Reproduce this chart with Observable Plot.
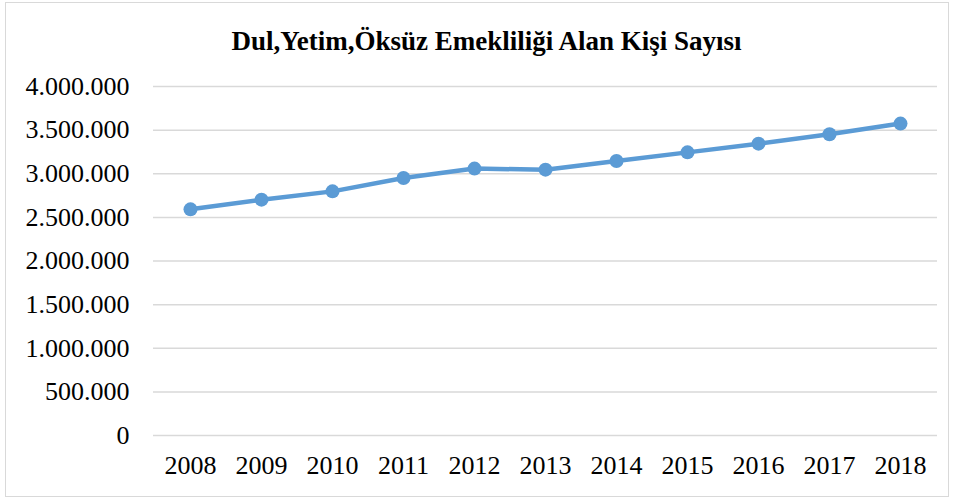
<!DOCTYPE html>
<html>
<head>
<meta charset="utf-8">
<script src="https://cdn.jsdelivr.net/npm/d3@7"></script>
<script src="https://cdn.jsdelivr.net/npm/@observablehq/plot@0.6"></script>
<style>
  html, body { margin: 0; padding: 0; background: #fff; }
  #wrap { position: relative; width: 953px; height: 501px; overflow: hidden; font-family: 'Liberation Serif'; }
  #frame { position: absolute; left: 5px; top: 2px; width: 944px; height: 495px; border: 1.5px solid #d9d9d9; box-sizing: border-box; }
  #title { position: absolute; left: 10px; top: 0; width: 953px; height: 70px; text-align: center; font-family: 'Liberation Serif'; font-weight: bold; font-size: 27px; line-height: 27px; padding-top: 28px; box-sizing: border-box; color: #000; }
  #chart { position: absolute; left: 0; top: 70px; }
  #chart svg text { font-family: 'Liberation Serif'; }
</style>
</head>
<body>
<div id="wrap">
  <div id="frame"></div>
  <div id="title">Dul,Yetim,Öksüz Emekliliği Alan Kişi Sayısı</div>
  <div id="chart"></div>
</div>
<script>
const years = ["2008","2009","2010","2011","2012","2013","2014","2015","2016","2017","2018"];
const values = [2592000, 2703000, 2798000, 2951000, 3059000, 3047000, 3146000, 3245000, 3345000, 3452000, 3575000];
const yTicks = [0, 500000, 1000000, 1500000, 2000000, 2500000, 3000000, 3500000, 4000000];

const data = years.map((y, i) => ({year: y, value: values[i]}));
const tr = d3.formatLocale({decimal: ",", thousands: ".", grouping: [3], currency: ["", ""]});
const fmt = tr.format(",");

const chart = Plot.plot({
  width: 953,
  height: 431,
  marginLeft: 153,
  marginRight: 16,
  marginTop: 16,
  marginBottom: 66,
  style: {fontFamily: "Liberation Serif", fontSize: "26px", color: "#000", background: "transparent"},
  x: {type: "point", domain: years, padding: 0.5, label: null},
  y: {domain: [0, 4000000], label: null},
  marks: [
    Plot.ruleY(yTicks, {stroke: "#d9d9d9", strokeWidth: 1.5}),
    Plot.axisY(yTicks, {tickSize: 0, tickPadding: 24, tickFormat: fmt, label: null, fontSize: 26}),
    Plot.axisX(years, {tickSize: 0, tickPadding: 20, label: null, fontSize: 26}),
    Plot.line(data, {x: "year", y: "value", stroke: "#5b9bd5", strokeWidth: 4.5, strokeLinejoin: "round", strokeLinecap: "round"}),
    Plot.dot(data, {x: "year", y: "value", r: 7, fill: "#5b9bd5", stroke: "none"})
  ]
});
document.getElementById("chart").appendChild(chart);
</script>
</body>
</html>
